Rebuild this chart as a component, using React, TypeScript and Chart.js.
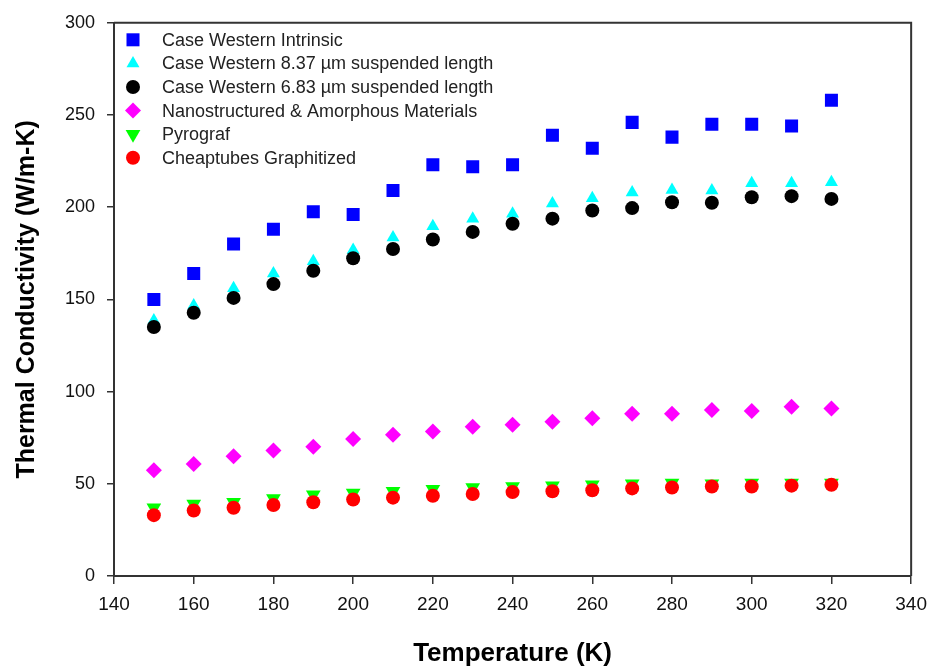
import React, { useEffect, useRef } from 'react';
import { Chart, registerables } from 'chart.js';
import { drawPoint } from 'chart.js/helpers';

Chart.register(...registerables);

const temperatures = [150, 160, 170, 180, 190, 200, 210, 220, 230, 240, 250, 260, 270, 280, 290, 300, 310, 320];
const caseWesternIntrinsic = [150, 164, 180, 188, 197.5, 196, 209, 223, 222, 223, 239, 232, 246, 238, 245, 245, 244, 258];
const caseWestern837 = [138.5, 146.7, 156, 164, 170.7, 176.8, 183.6, 189.7, 193.8, 196.5, 202, 204.9, 208, 209.3, 209, 213, 213, 213.5];
const caseWestern683 = [135, 142.8, 150.8, 158.3, 165.5, 172.3, 177.3, 182.5, 186.6, 191, 193.8, 198.2, 199.5, 202.7, 202.4, 205.4, 206, 204.5];
const nanostructured = [57.3, 60.8, 65, 68, 70.1, 74.3, 76.6, 78.4, 81, 82, 83.7, 85.5, 88, 88, 90, 89.5, 91.8, 90.9];
const pyrograf = [37, 39, 40, 42, 44, 45, 46, 47, 48, 48.5, 49, 49.5, 50, 50.5, 50, 50.5, 50.5, 50.5];
const cheaptubes = [33, 35.5, 37, 38.5, 40, 41.5, 42.5, 43.5, 44.5, 45.5, 46, 46.5, 47.5, 48, 48.5, 48.5, 49, 49.5];

const seriesLabels = [
  'Case Western Intrinsic',
  'Case Western 8.37 \u00b5m suspended length',
  'Case Western 6.83 \u00b5m suspended length',
  'Nanostructured & Amorphous Materials',
  'Pyrograf',
  'Cheaptubes Graphitized',
];
const seriesValues = [caseWesternIntrinsic, caseWestern837, caseWestern683, nanostructured, pyrograf, cheaptubes];
const seriesColors = ['#0000FF', '#00FFFF', '#000000', '#FF00FF', '#00FF00', '#FF0000'];
const seriesStyles = ['rect', 'triangle', 'circle', 'rectRot', 'triangle', 'circle'];
const seriesRotation = [0, 0, 0, 0, 180, 0];
const seriesRadius = [9.2, 7.5, 7, 8, 8.5, 7];
const seriesOrder = [1, 3, 2, 4, 6, 5];

const xMin = 140;
const xMax = 340;
const xStep = 20;
const yMin = 0;
const yMax = 300;
const yStep = 50;

const FONT = "'Liberation Sans', Arial, sans-serif";

const frameAndLegend = {
  id: 'frameAndLegend',
  afterDraw(chart: any) {
    const { ctx, chartArea } = chart;
    ctx.save();
    ctx.strokeStyle = '#333';
    ctx.lineWidth = 2;
    ctx.beginPath();
    ctx.moveTo(chartArea.left, chartArea.top);
    ctx.lineTo(chartArea.right, chartArea.top);
    ctx.lineTo(chartArea.right, chartArea.bottom);
    ctx.stroke();

    const x0 = chartArea.left + 19;
    const y0 = chartArea.top + 17;
    const rowH = 23.6;
    chart.data.datasets.forEach((ds: any, i: number) => {
      const y = y0 + i * rowH;
      ctx.fillStyle = ds.backgroundColor;
      ctx.strokeStyle = ds.backgroundColor;
      drawPoint(ctx, { pointStyle: ds.pointStyle, rotation: ds.pointRotation, radius: ds.pointRadius, borderWidth: 0 } as any, x0, y);
      ctx.fillStyle = '#222';
      ctx.font = `18px ${FONT}`;
      ctx.textBaseline = 'middle';
      ctx.textAlign = 'left';
      ctx.fillText(ds.label, x0 + 29, y + 1);
    });
    ctx.restore();
  },
};

export default function App() {
  const ref = useRef<HTMLCanvasElement | null>(null);
  useEffect(() => {
    if (!ref.current) return;
    const datasets = seriesLabels.map((label, i) => ({
      label,
      data: temperatures.map((t, j) => ({ x: t, y: seriesValues[i][j] })),
      backgroundColor: seriesColors[i],
      borderColor: seriesColors[i],
      pointStyle: seriesStyles[i],
      pointRotation: seriesRotation[i],
      pointRadius: seriesRadius[i],
      pointBorderWidth: 0,
      showLine: false,
      order: seriesOrder[i],
    }));
    const chart = new Chart(ref.current, {
      type: 'scatter',
      data: { datasets } as any,
      options: {
        responsive: false,
        animation: false,
        layout: { padding: { top: 16, right: 22, left: 0, bottom: 0 } },
        plugins: { legend: { display: false }, tooltip: { enabled: false } },
        scales: {
          x: {
            type: 'linear',
            min: xMin,
            max: xMax,
            ticks: { stepSize: xStep, font: { family: FONT, size: 19 }, color: '#111', padding: 9 },
            grid: { drawOnChartArea: false, tickLength: 8, color: '#333', lineWidth: 1.5 },
            border: { color: '#333', width: 2 },
            title: {
              display: true,
              text: 'Temperature (K)',
              font: { family: FONT, size: 26, weight: 'bold' },
              color: '#000',
              padding: { top: 0, bottom: 2 },
            },
            afterFit: (s: any) => { s.height = 95; },
          },
          y: {
            type: 'linear',
            min: yMin,
            max: yMax,
            ticks: { stepSize: yStep, font: { family: FONT, size: 18 }, color: '#111', padding: 12 },
            grid: { drawOnChartArea: false, tickLength: 7, color: '#333', lineWidth: 1.5 },
            border: { color: '#333', width: 2 },
            title: {
              display: true,
              text: 'Thermal Conductivity (W/m-K)',
              font: { family: FONT, size: 25, weight: 'bold' },
              color: '#000',
              padding: { top: 12, bottom: 0 },
            },
            afterFit: (s: any) => { s.width = 114; },
          },
        },
      } as any,
      plugins: [frameAndLegend],
    });
    return () => chart.destroy();
  }, []);
  return (
    <div style={{ position: 'absolute', left: 0, top: 0, width: 936, height: 671, background: '#fff' }}>
      <canvas ref={ref} width={936} height={671} style={{ display: 'block' }} />
    </div>
  );
}
